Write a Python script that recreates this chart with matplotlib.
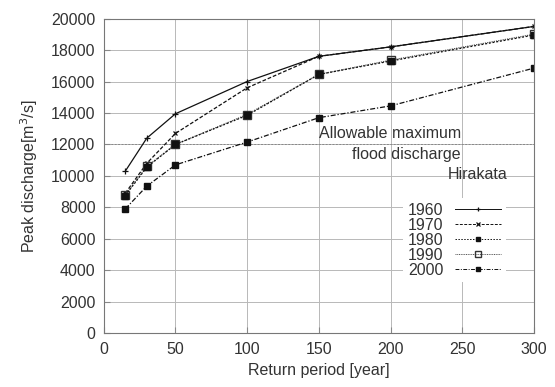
import numpy as np
import matplotlib.pyplot as plt

plt.rcParams['font.family'] = ['Liberation Sans', 'DejaVu Sans']

# Return periods and peak discharges
period = [15, 30, 50, 100, 150, 200, 300]
q1960 = [10300, 12400, 13950, 16000, 17600, 18200, 19500]
q1970 = [8900, 10800, 12700, 15600, 17600, 18200, 19500]
q1980 = [8750, 10550, 12000, 13850, 16450, 17300, 18950]
q1990 = [8800, 10600, 12000, 13900, 16450, 17350, 19000]
q2000 = [7900, 9350, 10700, 12150, 13700, 14450, 16850]
limit = 12000

txt = '#333333'
fig = plt.figure(figsize=(5.55, 3.87), dpi=100)
ax = fig.add_axes([0.187, 0.139, 0.775, 0.813])

ax.plot(period, q1960, color='#111111', lw=0.9, ls='-', marker='+', ms=4.5, mew=0.9, label='1960')
ax.plot(period, q1970, color='#111111', lw=0.9, ls=(0, (3, 1.5)), marker='x', ms=3.5, mew=0.9, label='1970')
ax.plot(period, q1990, color='#555555', lw=0.9, ls=(0, (1, 0.8)), marker='s', ms=5.5, mfc='none', mec='#333333', label='1990')
ax.plot(period, q1980, color='#111111', lw=0.9, ls=(0, (1.5, 1.5)), marker='s', ms=4.8, label='1980')
ax.plot(period, q2000, color='#111111', lw=0.9, ls=(0, (4, 1.5, 1, 1.5)), marker='s', ms=3.8, label='2000')

ax.axhline(limit, color='#888888', lw=0.7, ls=(0, (2, 1.5)), zorder=1)
ax.text(150, 12700, 'Allowable maximum', fontsize=11.5, color=txt, ha='left', va='center')
ax.text(173, 11350, 'flood discharge', fontsize=11.5, color=txt, ha='left', va='center')
ax.text(240, 10100, 'Hirakata', fontsize=11.5, color=txt, ha='left', va='center')

ax.set_xlim(0, 300)
ax.set_ylim(0, 20000)
ax.set_xticks(np.arange(0, 301, 50))
ax.set_yticks(np.arange(0, 20001, 2000))
ax.grid(True, color='#b8b8b8', lw=0.7)
ax.set_axisbelow(True)
ax.tick_params(direction='in', length=4, color='#888888', labelsize=11.5, labelcolor=txt, pad=6)
for s in ax.spines.values():
    s.set_color('#777777')
    s.set_linewidth(0.8)

ax.set_xlabel('Return period [year]', fontsize=11.5, color=txt, labelpad=5)
ax.set_ylabel('Peak discharge[m$^3$/s]', fontsize=11.5, color=txt, labelpad=8)

handles, labels = ax.get_legend_handles_labels()
order = [labels.index(l) for l in ['1960', '1970', '1980', '1990', '2000']]
leg = ax.legend([handles[i] for i in order], [labels[i] for i in order],
                loc='upper right', bbox_to_anchor=(0.935, 0.43), borderaxespad=0,
                markerfirst=False, handlelength=2.9, handletextpad=0.7,
                labelspacing=0.0, fontsize=11.5, frameon=True, fancybox=False,
                framealpha=1, edgecolor='none', facecolor='white', borderpad=0.3,
                markerscale=0.75)
for t in leg.get_texts():
    t.set_color(txt)
for h in leg.get_lines():
    h.set_linewidth(0.7)

fig.savefig('out.png', dpi=100)
